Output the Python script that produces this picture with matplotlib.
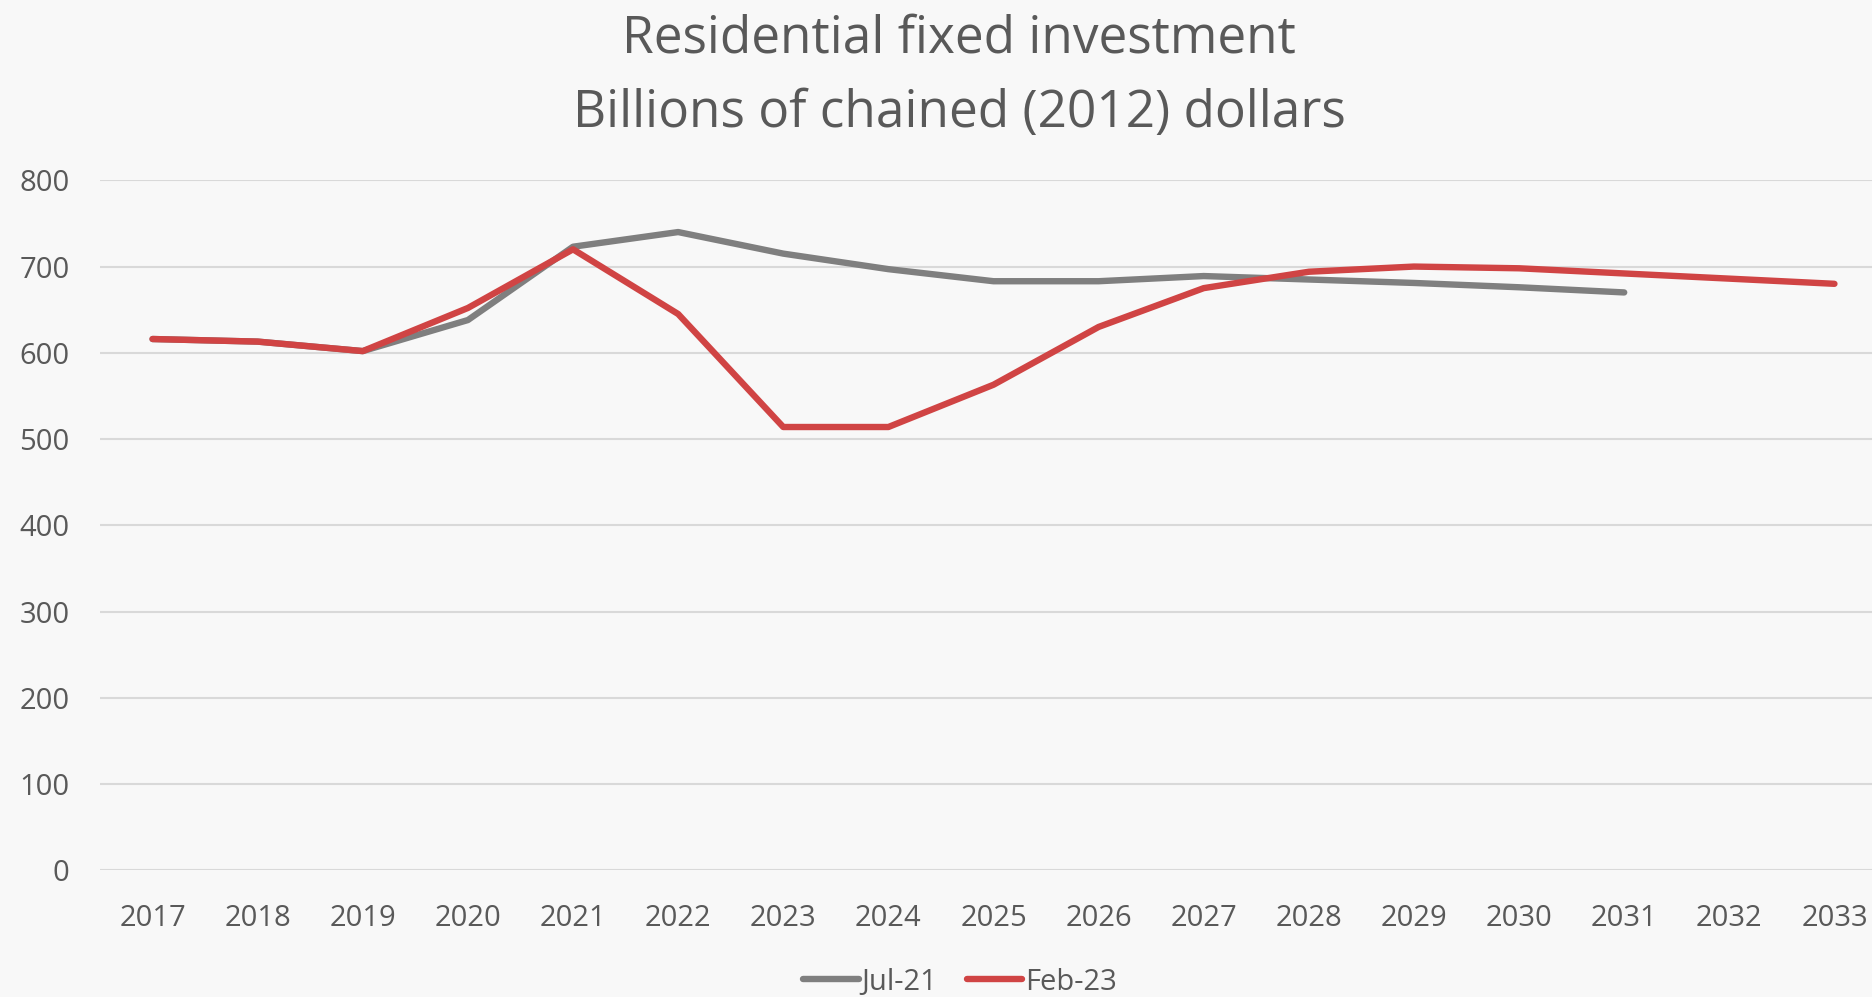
"""Residential fixed investment: Jul-21 vs Feb-23 projections."""

import matplotlib.pyplot as plt

years = [str(y) for y in range(2017, 2034)]

# billions of chained (2012) dollars
jul21 = [616, 613, 602, 638, 723, 740, 715, 697, 683, 683, 689, 685, 681, 676, 670]
feb23 = [616, 613, 602, 652, 720, 645, 514, 514, 563, 630, 675, 694, 700, 698, 692, 686, 680]

series = [("Jul-21", jul21, "#7f7f7f"), ("Feb-23", feb23, "#d04444")]

TEXT = "#595959"
plt.rcParams["font.family"] = ["Open Sans", "DejaVu Sans"]

fig = plt.figure(figsize=(18.72, 9.97), dpi=100, facecolor="#f8f8f8")
ax = fig.add_axes([100 / 1872, 1 - 870.4 / 997, 1787 / 1872, 690.1 / 997])
ax.set_facecolor("none")

for name, vals, color in series:
    ax.plot(range(len(vals)), vals, color=color, lw=4.6, label=name,
            solid_capstyle="round", solid_joinstyle="round")

ax.set_xlim(-0.5, len(years) - 0.5)
ax.set_ylim(0, 800)
ax.set_xticks(range(len(years)))
ax.set_xticklabels(years)
ax.set_yticks(range(0, 801, 100))
ax.grid(axis="y", color="#d9d9d9", lw=1.5)
ax.set_axisbelow(True)
for s in ax.spines.values():
    s.set_visible(False)
ax.tick_params(axis="both", length=0, labelsize=21, labelcolor=TEXT)
ax.tick_params(axis="y", pad=22)
ax.tick_params(axis="x", pad=24)

fig.text(959 / 1872, 1 - 76 / 997,
         "Residential fixed investment\nBillions of chained (2012) dollars",
         ha="center", va="center", fontsize=37, color=TEXT, linespacing=1.6)

fig.legend(loc="center", bbox_to_anchor=(960 / 1872, 1 - 982 / 997),
           ncol=2, frameon=False, fontsize=21, labelcolor=TEXT,
           handlelength=1.9, handletextpad=0.1, columnspacing=1.0)

fig.savefig("out.png", dpi=100, facecolor=fig.get_facecolor())
